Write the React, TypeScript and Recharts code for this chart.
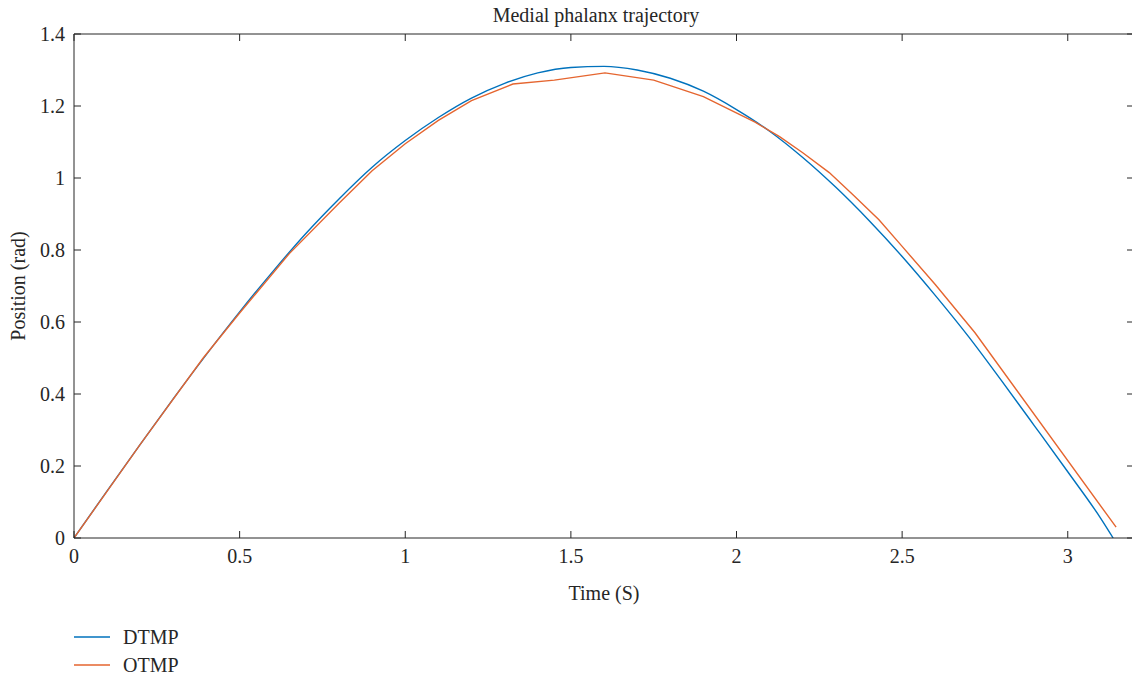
import React from 'react';
import { LineChart, Line, XAxis, YAxis, Legend } from 'recharts';

const FONT = '"Liberation Serif", "Times New Roman", serif';
const AXIS_COLOR = '#262626';
const TITLE = 'Medial phalanx trajectory';
const X_LABEL = 'Time (S)';
const Y_LABEL = 'Position (rad)';

const X_TICKS = [0, 0.5, 1, 1.5, 2, 2.5, 3];
const Y_TICKS = [0, 0.2, 0.4, 0.6, 0.8, 1, 1.2, 1.4];
const X_DOMAIN: [number, number] = [0, 3.2];
const Y_DOMAIN: [number, number] = [0, 1.4];

// DTMP (desired trajectory)
const DTMP_T = [0, 0.1, 0.2, 0.3, 0.4, 0.5, 0.6, 0.7, 0.8, 0.9, 1.0, 1.1, 1.2, 1.3, 1.4, 1.5, 1.6, 1.7, 1.8, 1.9, 2.0, 2.1, 2.2, 2.3, 2.4, 2.5, 2.6, 2.7, 2.8, 2.9, 3.0, 3.1, 3.137];
const DTMP_V = [0, 0.131, 0.26, 0.387, 0.51, 0.628, 0.74, 0.846, 0.942, 1.03, 1.104, 1.168, 1.222, 1.263, 1.292, 1.307, 1.31, 1.3, 1.277, 1.241, 1.19, 1.13, 1.057, 0.974, 0.882, 0.782, 0.674, 0.56, 0.437, 0.311, 0.184, 0.054, 0];

// OTMP (obtained trajectory)
const OTMP_T = [0, 0.2, 0.39, 0.5, 0.65, 0.8, 0.9, 1.0, 1.1, 1.2, 1.325, 1.45, 1.603, 1.75, 1.9, 2.056, 2.13, 2.2, 2.28, 2.35, 2.43, 2.5, 2.6, 2.72, 3.146];
const OTMP_V = [0, 0.26, 0.5, 0.625, 0.79, 0.93, 1.02, 1.095, 1.16, 1.215, 1.261, 1.272, 1.292, 1.272, 1.226, 1.155, 1.115, 1.07, 1.015, 0.955, 0.884, 0.81, 0.704, 0.57, 0.03];

const SERIES = [
  { name: 'DTMP', color: '#0072BD', t: DTMP_T, v: DTMP_V, curve: 'monotone' },
  { name: 'OTMP', color: '#E5652F', t: OTMP_T, v: OTMP_V, curve: 'linear' },
];

const fmt = (v: number) => String(Math.round(v * 10) / 10);

const BottomTick = (props: any) => {
  const { x, y, payload } = props;
  return (
    <g>
      <line x1={x} x2={x} y1={y} y2={y - 7} stroke={AXIS_COLOR} strokeWidth={1} />
      <text x={x} y={y + 25} textAnchor="middle" fontFamily={FONT} fontSize={20} fill={AXIS_COLOR}>
        {fmt(payload.value)}
      </text>
    </g>
  );
};

const TopTick = (props: any) => {
  const { x, y } = props;
  return <line x1={x} x2={x} y1={y} y2={y + 7} stroke={AXIS_COLOR} strokeWidth={1} />;
};

const LeftTick = (props: any) => {
  const { x, y, payload } = props;
  return (
    <g>
      <line x1={x} x2={x + 7} y1={y} y2={y} stroke={AXIS_COLOR} strokeWidth={1} />
      <text x={x - 9} y={y} dy="0.35em" textAnchor="end" fontFamily={FONT} fontSize={20} fill={AXIS_COLOR}>
        {fmt(payload.value)}
      </text>
    </g>
  );
};

const RightTick = (props: any) => {
  const { x, y } = props;
  return <line x1={x} x2={x - 7} y1={y} y2={y} stroke={AXIS_COLOR} strokeWidth={1} />;
};

const renderLegend = () => (
  <div style={{ fontFamily: FONT, fontSize: 20, color: AXIS_COLOR }}>
    {SERIES.map((s) => (
      <div key={s.name} style={{ display: 'flex', alignItems: 'center', height: 28 }}>
        <svg width={36} height={2} style={{ display: 'block' }}>
          <line x1={0} x2={36} y1={1} y2={1} stroke={s.color} strokeWidth={1.5} />
        </svg>
        <span style={{ marginLeft: 13, lineHeight: '28px' }}>{s.name}</span>
      </div>
    ))}
  </div>
);

export default function App() {
  const lines = SERIES.map((s) => ({
    ...s,
    data: s.t.map((t, i) => ({ x: t, y: s.v[i] })),
  }));
  return (
    <div style={{ position: 'absolute', left: 0, top: 0, width: 1132, height: 678, overflow: 'hidden', background: '#fff' }}>
      <LineChart width={1140} height={678} margin={{ top: 33, left: 73, right: 5, bottom: 139 }}>
        <XAxis
          xAxisId="bottom"
          type="number"
          dataKey="x"
          domain={X_DOMAIN}
          ticks={X_TICKS}
          interval={0}
          height={1}
          tickSize={0}
          tickMargin={0}
          tickLine={false}
          tick={<BottomTick />}
          axisLine={{ stroke: AXIS_COLOR, strokeWidth: 1 }}
          allowDataOverflow
        />
        <XAxis
          xAxisId="top"
          orientation="top"
          type="number"
          dataKey="x"
          domain={X_DOMAIN}
          ticks={X_TICKS}
          interval={0}
          height={1}
          tickSize={0}
          tickMargin={0}
          tickLine={false}
          tick={<TopTick />}
          axisLine={{ stroke: AXIS_COLOR, strokeWidth: 1 }}
          allowDataOverflow
        />
        <YAxis
          yAxisId="left"
          type="number"
          domain={Y_DOMAIN}
          ticks={Y_TICKS}
          interval={0}
          width={1}
          tickSize={0}
          tickMargin={0}
          tickLine={false}
          tick={<LeftTick />}
          axisLine={{ stroke: AXIS_COLOR, strokeWidth: 1 }}
          allowDataOverflow
        />
        <YAxis
          yAxisId="right"
          orientation="right"
          type="number"
          domain={Y_DOMAIN}
          ticks={Y_TICKS}
          interval={0}
          width={1}
          tickSize={0}
          tickMargin={0}
          tickLine={false}
          tick={<RightTick />}
          axisLine={{ stroke: AXIS_COLOR, strokeWidth: 1 }}
          allowDataOverflow
        />
        {lines.map((s) => (
          <Line
            key={s.name}
            xAxisId="bottom"
            yAxisId="left"
            data={s.data}
            dataKey="y"
            name={s.name}
            type={s.curve as any}
            stroke={s.color}
            strokeWidth={1.4}
            dot={false}
            activeDot={false}
            isAnimationActive={false}
          />
        ))}
        <Legend
          layout="vertical"
          align="center"
          verticalAlign="middle"
          content={renderLegend}
          wrapperStyle={{ left: 74, top: 623, width: 200 }}
        />
        <text x={596} y={22} textAnchor="middle" fontFamily={FONT} fontSize={20} fill={AXIS_COLOR}>
          {TITLE}
        </text>
        <text x={604} y={600} textAnchor="middle" fontFamily={FONT} fontSize={20} fill={AXIS_COLOR}>
          {X_LABEL}
        </text>
        <text
          x={25}
          y={286}
          textAnchor="middle"
          transform="rotate(-90 25 286)"
          fontFamily={FONT}
          fontSize={20}
          fill={AXIS_COLOR}
        >
          {Y_LABEL}
        </text>
      </LineChart>
    </div>
  );
}
